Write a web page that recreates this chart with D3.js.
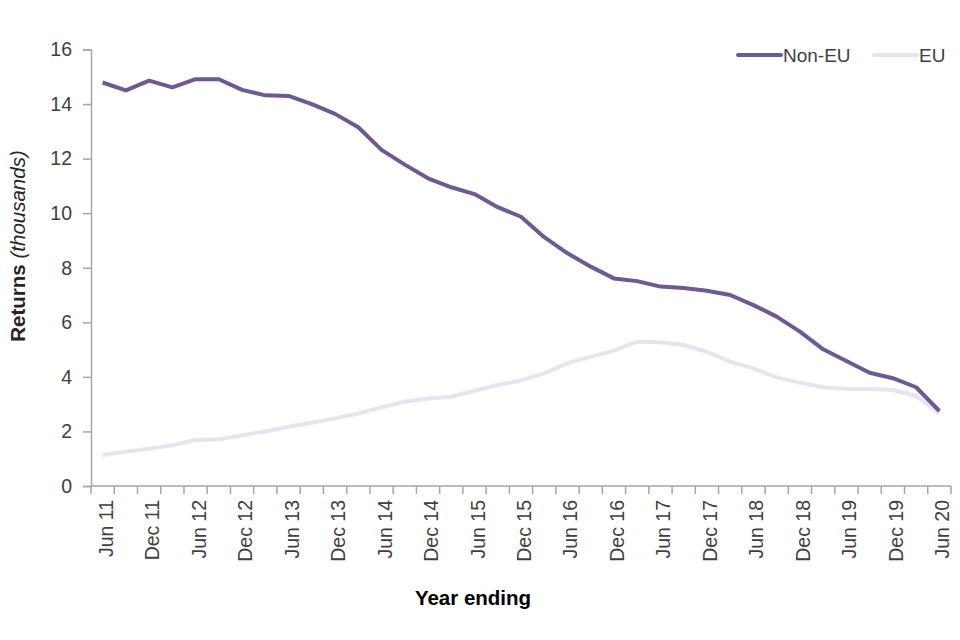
<!DOCTYPE html>
<html>
<head>
<meta charset="utf-8">
<script src="https://cdn.jsdelivr.net/npm/d3@7"></script>
<style>
  body { margin: 0; background: #fff; }
  text { font-family: "Liberation Sans", Arial, sans-serif; }
</style>
</head>
<body>
<div id="chart"></div>
<script>
// Trimestres: año que termina en cada trimestre, Jun 11 → Jun 20
const quarters = [];
const MONTHS = ["Jun","Sep","Dec","Mar"];
for (let i = 0; i < 37; i++) {
  const m = MONTHS[i % 4];
  const yr = 11 + Math.floor((i + 1) / 4);
  quarters.push(`${m} ${yr}`);
}

const nonEU = [14.79, 14.50, 14.86, 14.61, 14.91, 14.91, 14.52, 14.32, 14.30, 14.00,
  13.64, 13.15, 12.32, 11.78, 11.28, 10.95, 10.70, 10.22, 9.87, 9.12,
  8.53, 8.04, 7.61, 7.51, 7.31, 7.26, 7.16, 7.00, 6.63, 6.21,
  5.66, 5.01, 4.58, 4.15, 3.95, 3.62, 2.75];

const eu = [1.14, 1.26, 1.37, 1.49, 1.69, 1.71, 1.86, 2.00, 2.17, 2.32,
  2.48, 2.66, 2.88, 3.09, 3.21, 3.27, 3.49, 3.70, 3.87, 4.13,
  4.50, 4.74, 4.96, 5.29, 5.27, 5.17, 4.92, 4.56, 4.31, 3.98,
  3.79, 3.62, 3.56, 3.56, 3.52, 3.30, 2.66];

const yTicks = [0, 2, 4, 6, 8, 10, 12, 14, 16];

const series = [
  { name: "Non-EU", values: nonEU, color: "#6d5a94" },
  { name: "EU", values: eu, color: "#e8e3f0" }
];

const W = 960, H = 640;
const M = { top: 49.5, right: 9, bottom: 154, left: 91 };

const svg = d3.select("#chart").append("svg").attr("width", W).attr("height", H);

const x = d3.scaleBand().domain(quarters).range([M.left, W - M.right]);
const y = d3.scaleLinear().domain([0, 16]).range([H - M.bottom, M.top]);

const axisColor = "#a6a6a6";
const FS = 19.5;

// Eje Y
const gy = svg.append("g").attr("transform", `translate(${M.left},0)`)
  .call(d3.axisLeft(y).tickValues(yTicks).tickSize(8).tickPadding(11));
gy.select(".domain").attr("stroke", axisColor).attr("stroke-width", 1.5);
gy.selectAll(".tick line").attr("stroke", axisColor).attr("stroke-width", 1.5);
gy.selectAll(".tick text").attr("font-size", FS).attr("fill", "#404040")
  .attr("font-family", "Liberation Sans, Arial, sans-serif");

// Eje X: marcas en los límites de cada trimestre
const xAxisY = y(0);
const gx = svg.append("g").attr("transform", `translate(0,${xAxisY})`);
gx.append("line").attr("x1", M.left).attr("x2", W - M.right)
  .attr("stroke", axisColor).attr("stroke-width", 1.5);
const bounds = quarters.map(q => x(q)).concat([x(quarters[quarters.length - 1]) + x.bandwidth()]);
gx.selectAll("line.tk").data(bounds).join("line").attr("class", "tk")
  .attr("x1", d => d).attr("x2", d => d).attr("y1", 0).attr("y2", 8)
  .attr("stroke", axisColor).attr("stroke-width", 1.5);
gx.selectAll("text").data(quarters.filter((q, i) => i % 2 === 0)).join("text")
  .attr("transform", d => `translate(${x(d) + x.bandwidth() / 2 + 10},14) rotate(-90)`)
  .attr("text-anchor", "end")
  .attr("font-size", FS)
  .attr("fill", "#404040")
  .text(d => d);

// Líneas
const line = d3.line()
  .x((d, i) => x(quarters[i]) + x.bandwidth() / 2)
  .y(d => y(d));

svg.append("g").selectAll("path").data(series.slice().reverse()).join("path")
  .attr("d", d => line(d.values))
  .attr("fill", "none")
  .attr("stroke", d => d.color)
  .attr("stroke-width", 4)
  .attr("stroke-linejoin", "round");

// Leyenda
const legend = svg.append("g");
const legItems = [{ s: series[0], x: 738 }, { s: series[1], x: 874 }];
legItems.forEach(({ s, x: lx }) => {
  legend.append("line").attr("x1", lx).attr("x2", lx + 43).attr("y1", 55).attr("y2", 55)
    .attr("stroke", s.color).attr("stroke-width", 4).attr("stroke-linecap", "round");
  legend.append("text").attr("x", lx + 45).attr("y", 62)
    .attr("font-size", 19).attr("fill", "#404040").text(s.name);
});

// Títulos de ejes
svg.append("text")
  .attr("transform", `translate(25,246) rotate(-90)`)
  .attr("text-anchor", "middle")
  .attr("font-size", 20.5)
  .attr("fill", "#262626")
  .call(t => {
    t.append("tspan").attr("font-weight", "bold").text("Returns ");
    t.append("tspan").attr("font-style", "italic").text("(thousands)");
  });

svg.append("text")
  .attr("x", 473).attr("y", 605)
  .attr("text-anchor", "middle")
  .attr("font-size", 20.5).attr("font-weight", "bold").attr("fill", "#000")
  .text("Year ending");
</script>
</body>
</html>
